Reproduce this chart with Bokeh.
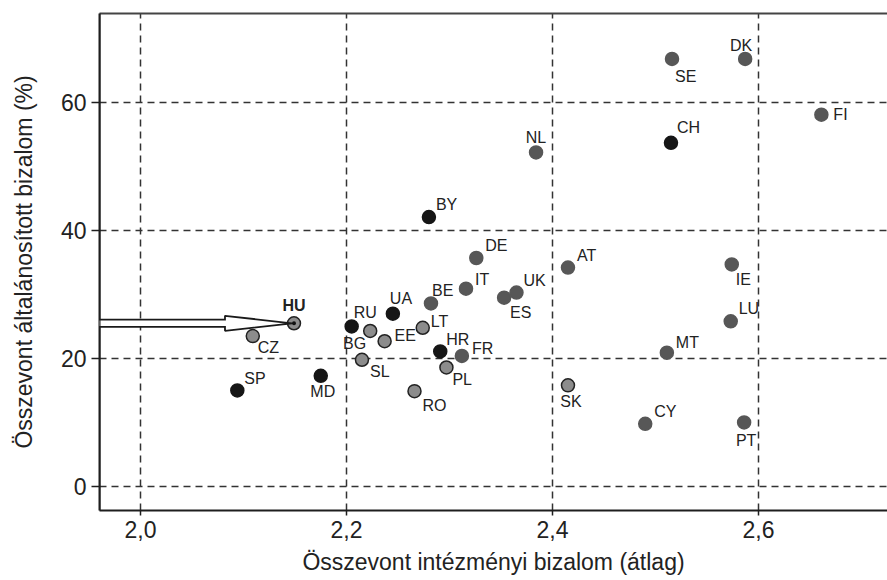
from bokeh.plotting import figure
from bokeh.models import (Range1d, FixedTicker, LinearAxis, PolyAnnotation, ColumnDataSource,
                          Span, Arrow)
from bokeh.core.properties import value
from bokeh.embed import file_html
from bokeh.resources import INLINE

# ---------------- data ----------------
countries = ["HU", "CZ", "SP", "MD", "RU", "UA", "BG", "EE", "LT", "BE", "IT",
             "DE", "BY", "UK", "ES", "AT", "HR", "FR", "SL", "PL", "RO", "SK",
             "SE", "DK", "FI", "CH", "NL", "IE", "LU", "MT", "CY", "PT"]
inst_trust = [2.149, 2.109, 2.094, 2.175, 2.205, 2.245, 2.223, 2.237, 2.274, 2.282, 2.316,
              2.326, 2.280, 2.365, 2.353, 2.415, 2.291, 2.312, 2.215, 2.297, 2.266, 2.415,
              2.516, 2.587, 2.661, 2.515, 2.384, 2.574, 2.573, 2.511, 2.490, 2.586]
gen_trust = [25.5, 23.5, 15.0, 17.3, 25.0, 27.0, 24.3, 22.7, 24.8, 28.6, 30.9,
             35.7, 42.1, 30.3, 29.5, 34.2, 21.1, 20.4, 19.8, 18.6, 14.9, 15.8,
             66.8, 66.8, 58.1, 53.7, 52.2, 34.7, 25.8, 20.9, 9.8, 10.0]
group = ["HU", "post", "non", "non", "non", "non", "post", "post", "post", "west", "west",
         "west", "non", "west", "west", "west", "non", "west", "post", "post", "post", "post",
         "west", "west", "west", "non", "west", "west", "west", "west", "west", "west"]

x_ticks = [2.0, 2.2, 2.4, 2.6]
x_tick_labels = ["2,0", "2,2", "2,4", "2,6"]
y_ticks = [0, 20, 40, 60]
y_tick_labels = ["0", "20", "40", "60"]
x_title = "Összevont intézményi bizalom (átlag)"
y_title = "Összevont általánosított bizalom (%)"
highlight = "HU"

# ---------------- style ----------------
FILL = {"non": "#161616", "west": "#575757", "post": "#8c8c8c", "HU": "#8c8c8c"}
LINE = {"non": "#161616", "west": "#575757", "post": "#222222", "HU": "#222222"}
# label offsets (px): dx, dy (down positive), align
LABEL_POS = {
    "HU": (0, -18, "center"), "CZ": (5, 11, "left"), "SP": (7, -12, "left"),
    "MD": (2, 16, "center"), "RU": (2, -14, "left"), "UA": (-3, -15, "left"),
    "BG": (-4, 13, "right"), "EE": (10, -6, "left"), "LT": (8, -6, "left"),
    "BE": (1, -13, "left"), "IT": (9, -9, "left"), "DE": (9, -12, "left"),
    "BY": (7, -13, "left"), "UK": (7, -12, "left"), "ES": (6, 15, "left"),
    "AT": (9, -12, "left"), "HR": (6, -12, "left"), "FR": (10, -7, "left"),
    "SL": (8, 12, "left"), "PL": (6, 12, "left"), "RO": (8, 14, "left"),
    "SK": (3, 16, "center"), "SE": (3, 18, "left"), "DK": (-4, -13, "center"),
    "FI": (12, 0, "left"), "CH": (6, -15, "left"), "NL": (0, -15, "center"),
    "IE": (4, 15, "left"), "LU": (8, -13, "left"), "MT": (9, -10, "left"),
    "CY": (9, -12, "left"), "PT": (2, 18, "center"),
}
LABEL_FONT = "Liberation Sans"
AXIS_FONT = "Liberation Sans"
INK = "#1a1a1a"

W, H = 887, 580
X0, X1 = 1.9602, 2.7252
Y0, Y1 = -3.75, 73.9

p = figure(width=W, height=H, output_backend="svg", toolbar_location=None,
           x_range=Range1d(X0, X1), y_range=Range1d(Y0, Y1),
           min_border_left=99, min_border_right=0, min_border_top=13, min_border_bottom=70,
           background_fill_color="white", border_fill_color="white")
p.outline_line_color = None

# axes
for ax, ticks, labels in ((p.xaxis[0], x_ticks, x_tick_labels), (p.yaxis[0], y_ticks, y_tick_labels)):
    ax.ticker = FixedTicker(ticks=ticks)
    ax.major_label_overrides = {t: l for t, l in zip(ticks, labels)}
    ax.minor_tick_line_color = None
    ax.major_tick_in = 0
    ax.axis_line_color = "#1e1e1e"
    ax.axis_line_width = 2
    ax.major_tick_line_color = "#1e1e1e"
    ax.major_tick_line_width = 1.5
    ax.major_label_text_font = AXIS_FONT
    ax.major_label_text_font_size = "23px"
    ax.major_label_text_color = "#222222"
    ax.axis_label_text_font = AXIS_FONT
    ax.axis_label_text_font_size = "23px"
    ax.axis_label_text_font_style = "normal"
    ax.axis_label_text_color = "#222222"

p.xaxis.axis_label = x_title
p.yaxis.axis_label = y_title
p.xaxis.major_tick_out = 5
p.yaxis.major_tick_out = 8
p.xaxis.major_label_standoff = 5
p.yaxis.major_label_standoff = 5
p.xaxis.axis_label_standoff = 8
p.yaxis.axis_label_standoff = 21

top = LinearAxis(ticker=FixedTicker(ticks=[]), major_label_text_font_size="0px",
                 axis_line_color="#444444", axis_line_width=2, major_tick_line_color=None,
                 minor_tick_line_color=None)
p.add_layout(top, "above")

for g, ticks in ((p.xgrid[0], x_ticks), (p.ygrid[0], y_ticks)):
    g.ticker = FixedTicker(ticks=ticks)
    g.grid_line_color = "#333333"
    g.grid_line_width = 1.5
    g.grid_line_dash = "7 5"

# ---------------- arrow pointing at the highlighted country ----------------
hi = countries.index(highlight)
hx, hy = inst_trust[hi], gen_trust[hi]
fw, fh = 788.0, 497.0
ux = (X1 - X0) / fw
uy = (Y1 - Y0) / fh
tip = hx - 2 * ux
base = tip - 67 * ux
hh = 7.5 * uy

# part of the shaft outside the frame: drawn as ticks of zero-size helper axes
for colour, width, out in ((INK, 9, 41), ("white", 5.5, 39)):
    helper = LinearAxis(fixed_location=X0, ticker=FixedTicker(ticks=[hy]),
                        axis_line_color=None, major_label_text_color=None,
                        major_tick_in=0, major_tick_out=out,
                        major_tick_line_color=colour, major_tick_line_width=width,
                        minor_tick_line_color=None)
    p.add_layout(helper, "left")

# part inside the frame
p.add_layout(Arrow(x_start=X0 - 2 * ux, y_start=hy, x_end=base + 1 * ux, y_end=hy, end=None,
                   line_color=INK, line_width=9, line_cap="butt"))
p.add_layout(PolyAnnotation(xs=[base, tip, base], ys=[hy + hh, hy, hy - hh],
                            fill_color="white", fill_alpha=1, line_color=INK, line_alpha=1,
                            line_width=1.8))
p.add_layout(Arrow(x_start=X0 - 2 * ux, y_start=hy, x_end=base + 3 * ux, y_end=hy, end=None,
                   line_color="white", line_width=5.5, line_cap="butt"))
p.add_layout(Span(location=X0, dimension="height", line_color="#1e1e1e", line_width=2))

# ---------------- points ----------------
src = ColumnDataSource(dict(
    x=inst_trust, y=gen_trust,
    fill=[FILL[g] for g in group], line=[LINE[g] for g in group]))
p.scatter("x", "y", source=src, size=13, fill_color="fill", line_color="line", line_width=1.5)
p.scatter([hx], [hy], size=4, fill_color="#111111", line_color=None)

# ---------------- labels ----------------
for align in ("left", "center", "right"):
    idx = [i for i, c in enumerate(countries) if LABEL_POS[c][2] == align]
    if not idx:
        continue
    s = ColumnDataSource(dict(
        x=[inst_trust[i] for i in idx], y=[gen_trust[i] for i in idx],
        t=[countries[i] for i in idx],
        dx=[LABEL_POS[countries[i]][0] for i in idx],
        dy=[LABEL_POS[countries[i]][1] for i in idx],
        st=["bold" if countries[i] == highlight else "normal" for i in idx]))
    p.text("x", "y", text="t", source=s, x_offset="dx", y_offset="dy",
           text_align=align, text_baseline="middle", text_font=value(LABEL_FONT),
           text_font_size="16px", text_color="#222222", text_font_style="st")

open("out.html", "w").write(file_html(p, INLINE))
